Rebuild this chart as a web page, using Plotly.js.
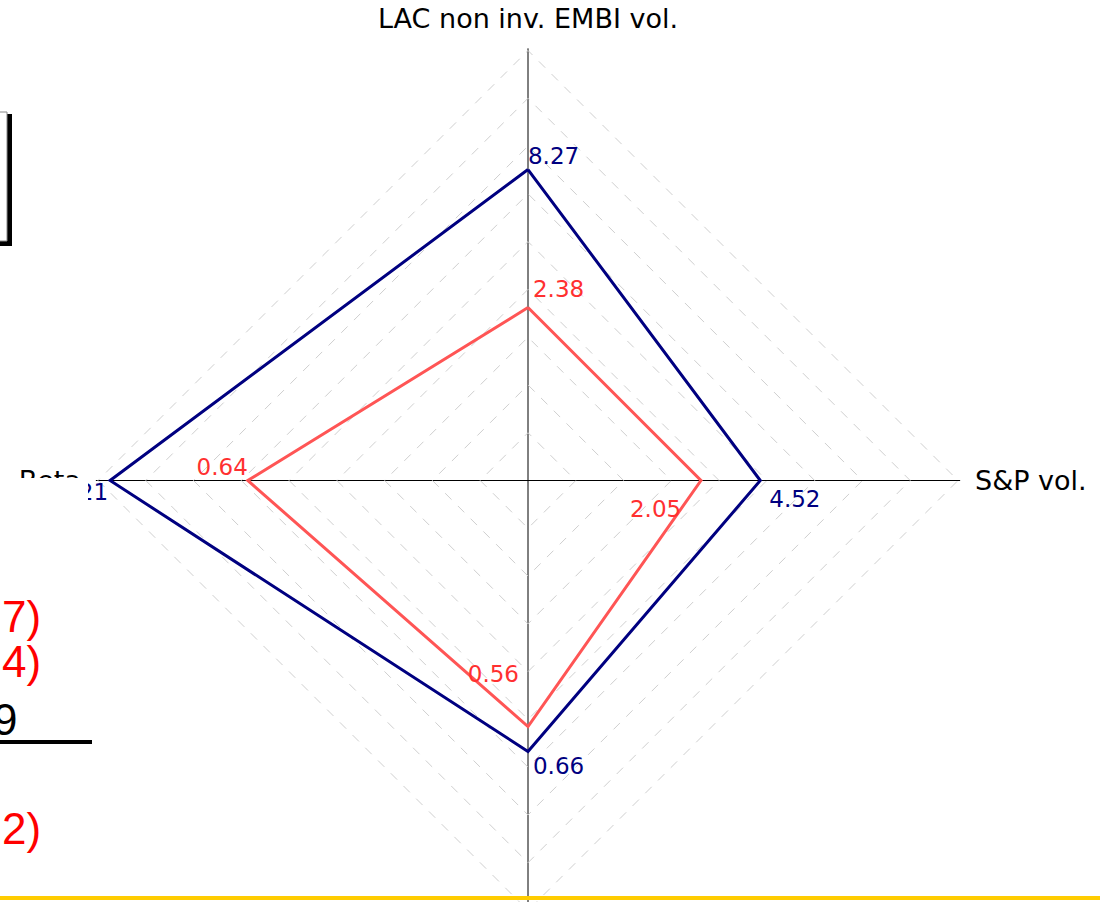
<!DOCTYPE html>
<html><head><meta charset="utf-8">
<script src="https://cdn.plot.ly/plotly-3.0.1.min.js"></script>
<style>html,body{margin:0;padding:0;overflow:hidden;background:#fff;width:1100px;height:902px;} #chart{width:1100px;height:1000px;}</style>
</head><body><div id="chart"></div>
<script>
// ---- data ----
const categories = ["LAC non inv. EMBI vol.", "S&P vol.", "Correlation", "Beta"];
const seriesBlue = [8.27, 4.52, 0.66, 1.21];
const seriesRed  = [2.38, 2.05, 0.56, 0.64];
// per-axis scale of the (normalised) radar
const axisMin = [-5.0, -5.15, -0.43, -0.52];
const axisMax = [13.35, 12.75, 1.30, 1.26];
const ringCount = 9;
// label placement (styles)
const blueLabelPos = ['top right', 'bottom right', 'bottom right', 'bottom left'];
const redLabelPos  = ['top right', 'bottom left', 'top left', 'top left'];
const blueLabelPad = [0, 12.8, 6.4, 1.6];
const redLabelPad  = [6.4, 30, 12.8, 0];
const redLabelExtraLine = [false, false, true, false];
// slide fragments at the left edge
const sideTexts = ["7)", "4)", "9", "2)"];
const sideColors = ["#FF0000", "#FF0000", "#000000", "#FF0000"];

// ---- helpers ----
const W = 1100, H = 1000;
const px = x => x / W;
const py = y => 1 - y / H;
function norm(vals) {
  const r = vals.map((v, i) => (v - axisMin[i]) / (axisMax[i] - axisMin[i]) * ringCount);
  return r.concat([r[0]]);
}
const theta = categories.concat([categories[0]]);
const fmt = v => v.toFixed(2);

const cx = 528, cy = 480.5;
const rangeMax = ringCount * 1.005;
const R = 430 * rangeMax / ringCount;

const traces = [
  {
    type: 'scatterpolar', mode: 'lines+markers+text',
    r: norm(seriesRed), theta: theta,
    text: seriesRed.map((v, i) => fmt(v) + (redLabelExtraLine[i] ? '<br> ' : '')).concat(['']),
    textposition: redLabelPos.concat(['top right']),
    textfont: {family: 'DejaVu Sans', size: 23, color: '#FF3030'},
    marker: {size: redLabelPad.concat([0]), color: 'rgba(0,0,0,0)', opacity: 0, line: {width: 0}},
    line: {color: '#FF5555', width: 3},
    cliponaxis: false, hoverinfo: 'skip'
  },
  {
    type: 'scatterpolar', mode: 'lines+markers+text',
    r: norm(seriesBlue), theta: theta,
    text: seriesBlue.map(fmt).concat(['']),
    textposition: blueLabelPos.concat(['top right']),
    textfont: {family: 'DejaVu Sans', size: 23, color: '#000080'},
    marker: {size: blueLabelPad.concat([0]), color: 'rgba(0,0,0,0)', opacity: 0, line: {width: 0}},
    line: {color: '#000080', width: 3},
    cliponaxis: false, hoverinfo: 'skip'
  }
];

const ticks = [];
for (let k = 1; k <= ringCount; k++) ticks.push(k);

const shapes = [
  // top-left framed box with shadow
  {type: 'rect', xref: 'paper', yref: 'paper', layer: 'above', x0: px(-20), x1: px(12), y0: py(114), y1: py(246), fillcolor: '#000', line: {width: 0}},
  {type: 'rect', xref: 'paper', yref: 'paper', layer: 'above', x0: px(-20), x1: px(7), y0: py(112), y1: py(241), fillcolor: '#fff', line: {color: '#888', width: 1}},
  // white text box covering lower left
  {type: 'rect', xref: 'paper', yref: 'paper', layer: 'above', x0: px(-5), x1: px(88), y0: py(478), y1: py(893), fillcolor: '#fff', line: {width: 0}},
  // underline
  {type: 'line', xref: 'paper', yref: 'paper', layer: 'above', x0: px(0), x1: px(92), y0: py(742), y1: py(742), line: {color: '#000', width: 4}},
  // yellow footer rule
  {type: 'line', xref: 'paper', yref: 'paper', layer: 'above', x0: 0, x1: 1, y0: py(898), y1: py(898), line: {color: '#FFCC00', width: 4}}
];

const sideY = [616, 661, 719, 828];
const sideX = [43, 43, 19, 43];
const annotations = sideTexts.map((t, i) => ({
  xref: 'paper', yref: 'paper', x: px(sideX[i]), y: py(sideY[i]),
  xanchor: 'right', yanchor: 'middle', showarrow: false, text: t,
  font: {family: 'Liberation Sans', size: 44, color: sideColors[i]}
}));

const layout = {
  width: W, height: H,
  margin: {l: 0, r: 0, t: 0, b: 0},
  paper_bgcolor: '#fff',
  showlegend: false,
  polar: {
    domain: {x: [px(cx - R), px(cx + R)], y: [py(cy + R), py(cy - R)]},
    bgcolor: 'rgba(0,0,0,0)',
    gridshape: 'linear',
    radialaxis: {
      range: [0, rangeMax], tickvals: ticks, showticklabels: false, ticks: '',
      showline: false, gridcolor: '#cfcfcf', gridwidth: 1, griddash: 'dash', angle: 90
    },
    angularaxis: {
      direction: 'clockwise', rotation: 90,
      gridcolor: '#000', gridwidth: 1, showline: false,
      ticks: 'outside', ticklen: 9, tickcolor: 'rgba(0,0,0,0)',
      tickfont: {family: 'DejaVu Sans', size: 27, color: '#000'}
    }
  },
  shapes: shapes,
  annotations: annotations
};

Plotly.newPlot('chart', traces, layout, {displayModeBar: false, staticPlot: true});
</script>
</body></html>
